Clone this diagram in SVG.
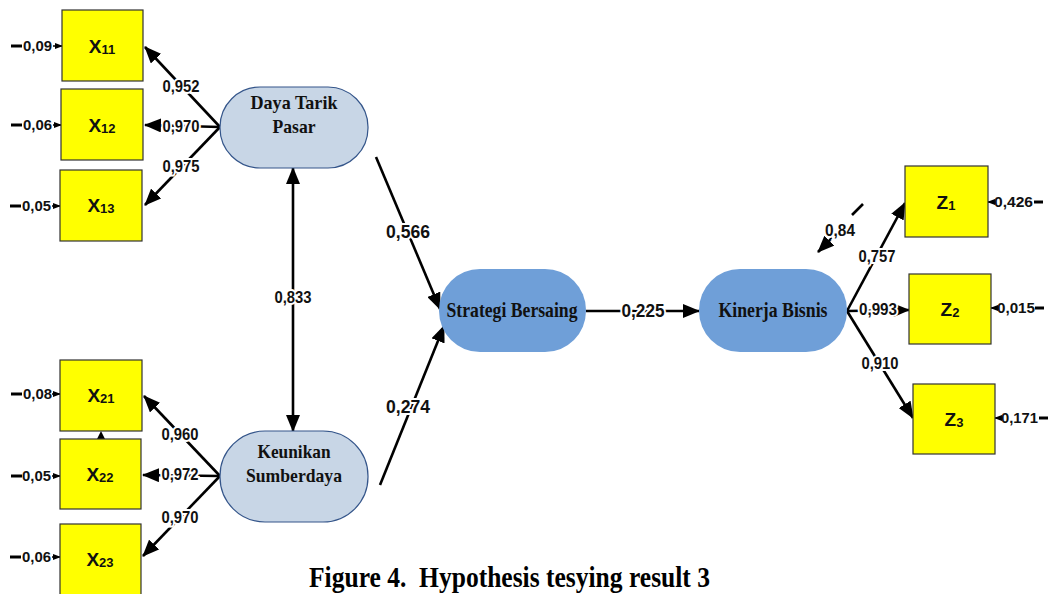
<svg xmlns="http://www.w3.org/2000/svg" width="1054" height="594" viewBox="0 0 1054 594">
<style>
.box{fill:#ffff00;stroke:#333;stroke-width:1.2}
.lat{fill:#c8d6e6;stroke:#34558a;stroke-width:1.2}
.blue{fill:#6f9fd8}
.nt{font-family:"Liberation Serif",serif;font-weight:bold;font-size:19px;fill:#111;text-anchor:middle}
.nt2{font-size:21px}
.bt{font-family:"Liberation Sans",Arial,sans-serif;font-weight:bold;font-size:19px;fill:#111;text-anchor:middle}
.sub{font-size:13px}
.ln{stroke:#000;stroke-width:2.6;fill:none}
.lb{font-family:"Liberation Sans",Arial,sans-serif;font-weight:bold;font-size:16px;fill:#111;text-anchor:middle;stroke:#fff;stroke-width:4;paint-order:stroke}
.lb2{font-size:19px}
.err{font-family:"Liberation Sans",Arial,sans-serif;font-weight:bold;font-size:15px;fill:#111}
.cap{font-family:"Liberation Serif",serif;font-weight:bold;font-size:29px;fill:#000}
</style>
<defs>
<marker id="ah" markerUnits="userSpaceOnUse" markerWidth="18" markerHeight="14" refX="16" refY="7" orient="auto-start-reverse">
<path d="M0,0 L17,7 L0,14 Z" fill="#000"/>
</marker>
<marker id="sh" markerUnits="userSpaceOnUse" markerWidth="8" markerHeight="8" refX="7" refY="4" orient="auto">
<path d="M0,1 L8,4 L0,7 Z" fill="#000"/>
</marker>
</defs>

<g id="connectors">
<line class="ln" x1="220" y1="127" x2="145" y2="47" marker-end="url(#ah)"/>
<line class="ln" x1="220" y1="127" x2="145" y2="125" marker-end="url(#ah)"/>
<line class="ln" x1="220" y1="127" x2="145" y2="205" marker-end="url(#ah)"/>
<line class="ln" x1="220" y1="476" x2="144" y2="396" marker-end="url(#ah)"/>
<line class="ln" x1="220" y1="476" x2="143" y2="475" marker-end="url(#ah)"/>
<line class="ln" x1="220" y1="476" x2="143" y2="556" marker-end="url(#ah)"/>
<line class="ln" x1="293" y1="168" x2="293" y2="431" marker-start="url(#ah)" marker-end="url(#ah)"/>
<line class="ln" x1="376" y1="157" x2="440" y2="309" marker-end="url(#ah)"/>
<line class="ln" x1="380" y1="485" x2="444" y2="326" marker-end="url(#ah)"/>
<line class="ln" x1="586" y1="311" x2="699" y2="311" marker-end="url(#ah)"/>
<line class="ln" x1="847" y1="311" x2="905" y2="203" marker-end="url(#ah)"/>
<line class="ln" x1="847" y1="311" x2="909" y2="310" marker-end="url(#ah)"/>
<line class="ln" x1="847" y1="311" x2="913" y2="418" marker-end="url(#ah)"/>
<line class="ln" x1="863" y1="204" x2="852" y2="215"/>
<line class="ln" x1="832" y1="238" x2="818" y2="252" marker-end="url(#ah)"/>
<path d="M97,439 L101,431 L105,439 Z" fill="#000"/>
<g>
<line x1="11" y1="46" x2="22" y2="46" stroke="#000" stroke-width="3"/>
<line x1="53" y1="46" x2="62" y2="46" stroke="#000" stroke-width="1.5" marker-end="url(#sh)"/>
<line x1="11" y1="125" x2="22" y2="125" stroke="#000" stroke-width="3"/>
<line x1="53" y1="125" x2="61" y2="125" stroke="#000" stroke-width="1.5" marker-end="url(#sh)"/>
<line x1="10" y1="206" x2="21" y2="206" stroke="#000" stroke-width="3"/>
<line x1="52" y1="206" x2="60" y2="206" stroke="#000" stroke-width="1.5" marker-end="url(#sh)"/>
<line x1="11" y1="394" x2="22" y2="394" stroke="#000" stroke-width="3"/>
<line x1="52" y1="394" x2="60" y2="394" stroke="#000" stroke-width="1.5" marker-end="url(#sh)"/>
<line x1="11" y1="476" x2="22" y2="476" stroke="#000" stroke-width="3"/>
<line x1="52" y1="476" x2="60" y2="476" stroke="#000" stroke-width="1.5" marker-end="url(#sh)"/>
<line x1="10" y1="557" x2="21" y2="557" stroke="#000" stroke-width="3"/>
<line x1="52" y1="557" x2="60" y2="557" stroke="#000" stroke-width="1.5" marker-end="url(#sh)"/>
</g>
<g>
<line x1="994" y1="202" x2="988" y2="202" stroke="#000" stroke-width="1.5" marker-end="url(#sh)"/>
<line x1="1034" y1="202" x2="1043" y2="202" stroke="#000" stroke-width="3"/>
<line x1="997" y1="308" x2="991" y2="308" stroke="#000" stroke-width="1.5" marker-end="url(#sh)"/>
<line x1="1035" y1="308" x2="1044" y2="308" stroke="#000" stroke-width="3"/>
<line x1="1001" y1="418" x2="995" y2="418" stroke="#000" stroke-width="1.5" marker-end="url(#sh)"/>
<line x1="1039" y1="418" x2="1048" y2="418" stroke="#000" stroke-width="3"/>
</g>
<text class="lb" x="181" y="92" textLength="37" lengthAdjust="spacingAndGlyphs">0,952</text>
<text class="lb" x="181" y="132" textLength="37" lengthAdjust="spacingAndGlyphs">0,970</text>
<text class="lb" x="181" y="172" textLength="37" lengthAdjust="spacingAndGlyphs">0,975</text>
<text class="lb" x="180" y="440" textLength="37" lengthAdjust="spacingAndGlyphs">0,960</text>
<text class="lb" x="180" y="480" textLength="37" lengthAdjust="spacingAndGlyphs">0,972</text>
<text class="lb" x="180" y="523" textLength="37" lengthAdjust="spacingAndGlyphs">0,970</text>
<text class="lb" x="293" y="303" textLength="37" lengthAdjust="spacingAndGlyphs">0,833</text>
<text class="lb lb2" x="408" y="238" textLength="44" lengthAdjust="spacingAndGlyphs">0,566</text>
<text class="lb lb2" x="408" y="413" textLength="44" lengthAdjust="spacingAndGlyphs">0,274</text>
<text class="lb lb2" x="643" y="317" textLength="43" lengthAdjust="spacingAndGlyphs">0,225</text>
<text class="lb" x="840" y="236" textLength="30" lengthAdjust="spacingAndGlyphs">0,84</text>
<text class="lb" x="877" y="262" textLength="37" lengthAdjust="spacingAndGlyphs">0,757</text>
<text class="lb" x="878" y="315" textLength="38" lengthAdjust="spacingAndGlyphs">0,993</text>
<text class="lb" x="880" y="369" textLength="37" lengthAdjust="spacingAndGlyphs">0,910</text>
<text class="err" x="23" y="51" textLength="29" lengthAdjust="spacingAndGlyphs">0,09</text>
<text class="err" x="23" y="130" textLength="29" lengthAdjust="spacingAndGlyphs">0,06</text>
<text class="err" x="22" y="211" textLength="29" lengthAdjust="spacingAndGlyphs">0,05</text>
<text class="err" x="23" y="399" textLength="29" lengthAdjust="spacingAndGlyphs">0,08</text>
<text class="err" x="22" y="481" textLength="29" lengthAdjust="spacingAndGlyphs">0,05</text>
<text class="err" x="22" y="562" textLength="29" lengthAdjust="spacingAndGlyphs">0,06</text>
<text class="err" x="994" y="207" textLength="39" lengthAdjust="spacingAndGlyphs">0,426</text>
<text class="err" x="997" y="313" textLength="38" lengthAdjust="spacingAndGlyphs">0,015</text>
<text class="err" x="1001" y="423" textLength="37" lengthAdjust="spacingAndGlyphs">0,171</text>
</g>

<g id="X11"><rect class="box" x="62" y="10" width="81" height="71"/><text class="bt" x="102" y="53">X<tspan class="sub" dy="1">11</tspan></text></g>
<g id="X12"><rect class="box" x="61" y="89" width="82" height="71"/><text class="bt" x="102" y="132">X<tspan class="sub" dy="1">12</tspan></text></g>
<g id="X13"><rect class="box" x="60" y="170" width="82" height="71"/><text class="bt" x="101" y="212">X<tspan class="sub" dy="1">13</tspan></text></g>
<g id="X21"><rect class="box" x="60" y="360" width="82" height="71"/><text class="bt" x="101" y="402">X<tspan class="sub" dy="1">21</tspan></text></g>
<g id="X22"><rect class="box" x="60" y="439" width="81" height="70"/><text class="bt" x="100" y="481">X<tspan class="sub" dy="1">22</tspan></text></g>
<g id="X23"><rect class="box" x="60" y="524" width="81" height="72"/><text class="bt" x="100" y="566">X<tspan class="sub" dy="1">23</tspan></text></g>

<g id="Z1"><rect class="box" x="905" y="166" width="83" height="71"/><text class="bt" x="946" y="209">Z<tspan class="sub" dy="1">1</tspan></text></g>
<g id="Z2"><rect class="box" x="909" y="274" width="82" height="70"/><text class="bt" x="950" y="316">Z<tspan class="sub" dy="1">2</tspan></text></g>
<g id="Z3"><rect class="box" x="913" y="384" width="82" height="70"/><text class="bt" x="954" y="426">Z<tspan class="sub" dy="1">3</tspan></text></g>

<g id="DayaTarikPasar"><rect class="lat" x="220" y="87" width="148" height="81" rx="40" ry="40"/><text class="nt" x="294" y="109" textLength="87" lengthAdjust="spacingAndGlyphs">Daya Tarik</text><text class="nt" x="294" y="133" textLength="43" lengthAdjust="spacingAndGlyphs">Pasar</text></g>
<g id="KeunikanSumberdaya"><rect class="lat" x="220" y="431" width="148" height="91" rx="45" ry="45"/><text class="nt" x="294" y="458" textLength="73" lengthAdjust="spacingAndGlyphs">Keunikan</text><text class="nt" x="294" y="482" textLength="96" lengthAdjust="spacingAndGlyphs">Sumberdaya</text></g>
<g id="StrategiBersaing"><rect class="blue" x="439" y="269" width="147" height="83" rx="41" ry="41"/><text class="nt nt2" x="512" y="317" textLength="131" lengthAdjust="spacingAndGlyphs">Strategi Bersaing</text></g>
<g id="KinerjaBisnis"><rect class="blue" x="699" y="269" width="148" height="83" rx="41" ry="41"/><text class="nt nt2" x="773" y="317" textLength="109" lengthAdjust="spacingAndGlyphs">Kinerja Bisnis</text></g>

<text class="cap" x="309" y="587" xml:space="preserve" textLength="401" lengthAdjust="spacingAndGlyphs">Figure 4.  Hypothesis tesying result 3</text>
</svg>
